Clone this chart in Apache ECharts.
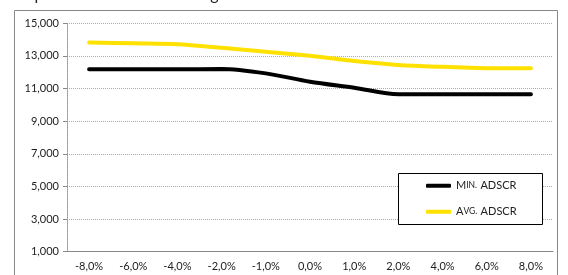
<!DOCTYPE html>
<html>
<head>
<meta charset="utf-8">
<script src="https://cdn.jsdelivr.net/npm/echarts@6/dist/echarts.min.js"></script>
<style>html,body{margin:0;padding:0;background:#fff;}#c{width:568px;height:275px;}</style>
</head>
<body>
<div id="c"></div>
<script>
var categories = ['-8,0%','-6,0%','-4,0%','-2,0%','-1,0%','0,0%','1,0%','2,0%','4,0%','6,0%','8,0%'];
var minAdscr = [12180, 12180, 12180, 12200, 11930, 11420, 11050, 10650, 10650, 10650, 10650];
var avgAdscr = [13830, 13770, 13710, 13500, 13260, 13010, 12690, 12450, 12330, 12250, 12240];
var yTicks = {min: 1000, max: 15000, step: 2000};
var titleText = 'Impact of interest rate changes on ADSCR';

var chart = echarts.init(document.getElementById('c'), null, {renderer: 'canvas'});
var font = 'Lato, "Open Sans", sans-serif';
var rich = {
  c: {fontSize: 11, fontFamily: font, color: '#222', lineHeight: 14},
  s: {fontSize: 8.5, fontFamily: font, color: '#222', lineHeight: 14}
};
chart.setOption({
  animation: false,
  title: {
    text: titleText, left: 12, top: -18,
    textStyle: {fontSize: 16, fontWeight: 'normal', fontFamily: font, color: '#222'}
  },
  graphic: [
    {type: 'rect', shape: {x: 14.5, y: 10.5, width: 543, height: 300}, style: {fill: null, stroke: '#888', lineWidth: 1}, z: -1},
    {type: 'rect', shape: {x: 398.5, y: 173.5, width: 144, height: 51}, style: {fill: '#fff', stroke: '#000', lineWidth: 1}, z: 5}
  ],
  grid: {left: 67, right: 15, top: 23.3, bottom: 23.3, containLabel: false},
  legend: {
    orient: 'vertical', left: 426, top: 178.7, padding: 0, itemGap: 12,
    itemWidth: 25, itemHeight: 4, icon: 'roundRect', selectedMode: false, z: 6,
    textStyle: {rich: rich, lineHeight: 14},
    formatter: function (n) {
      if (n === 'Min. ADSCR') return '{c|M}{s|IN.} {c|ADSCR}';
      return '{c|A}{s|VG.} {c|ADSCR}';
    },
    data: ['Min. ADSCR', 'Avg. ADSCR']
  },
  xAxis: {
    type: 'category', data: categories, boundaryGap: true,
    axisLine: {lineStyle: {color: '#888', width: 1}},
    axisTick: {alignWithLabel: true, length: 4, lineStyle: {color: '#888'}},
    axisLabel: {fontSize: 11, fontFamily: font, color: '#222', margin: 9, interval: 0},
    splitLine: {show: false}
  },
  yAxis: {
    type: 'value', min: yTicks.min, max: yTicks.max, interval: yTicks.step,
    axisLine: {show: true, lineStyle: {color: '#999', type: [1, 1], width: 1}},
    axisTick: {show: true, length: 4, lineStyle: {color: '#888'}},
    axisLabel: {fontSize: 11, fontFamily: font, color: '#222', margin: 8,
      formatter: function (v) { return v.toLocaleString('en-US'); }},
    splitLine: {lineStyle: {color: '#aaa', type: [1, 1], width: 1}}
  },
  series: [
    {name: 'Min. ADSCR', type: 'line', data: minAdscr, smooth: 0.3, symbol: 'none',
      itemStyle: {color: '#000'}, lineStyle: {color: '#000', width: 4, cap: 'round'}},
    {name: 'Avg. ADSCR', type: 'line', data: avgAdscr, smooth: 0.3, symbol: 'none',
      itemStyle: {color: '#FFE100'}, lineStyle: {color: '#FFE100', width: 4, cap: 'round'}}
  ]
});
</script>
</body>
</html>
